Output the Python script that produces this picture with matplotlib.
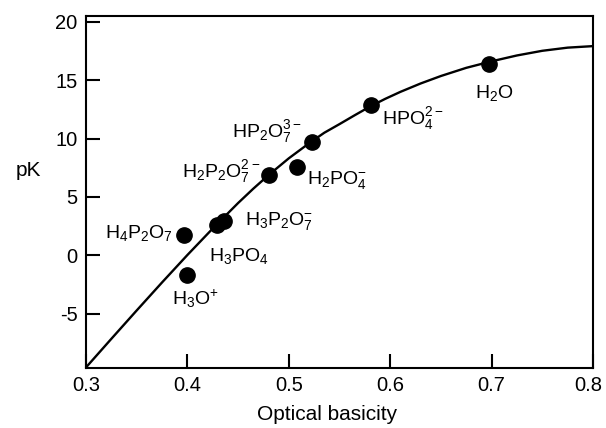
import matplotlib
matplotlib.use("Agg")
import matplotlib.pyplot as plt
import matplotlib.transforms as mtransforms

plt.rcParams["font.family"] = ["Liberation Sans", "DejaVu Sans"]
plt.rcParams["mathtext.default"] = "regular"
plt.rcParams["axes.unicode_minus"] = False

# measured species (optical basicity, pK)
species = [r"H$_2$O", r"HPO$_4^{2-}$", r"HP$_2$O$_7^{3-}$", r"H$_2$PO$_4^{-}$",
           r"H$_2$P$_2$O$_7^{2-}$", r"H$_3$P$_2$O$_7^{-}$", r"H$_3$PO$_4$",
           r"H$_4$P$_2$O$_7$", r"H$_3$O$^{+}$"]
basicity = [0.697, 0.581, 0.523, 0.508, 0.480, 0.436, 0.429, 0.397, 0.400]
pk = [16.4, 12.9, 9.7, 7.6, 6.9, 2.9, 2.6, 1.7, -1.7]

# fitted curve
curve_x = [0.300, 0.325, 0.350, 0.375, 0.400, 0.425, 0.450, 0.465, 0.480, 0.500,
           0.520, 0.535, 0.550, 0.565, 0.580, 0.595, 0.610, 0.630, 0.650, 0.675,
           0.700, 0.725, 0.750, 0.775, 0.800]
curve_y = [-9.6, -7.15, -4.72, -2.32, 0.03, 2.3, 4.48, 5.71, 6.87, 8.31,
           9.6, 10.5, 11.24, 12.0, 12.74, 13.4, 14.0, 14.72, 15.36, 16.06,
           16.62, 17.12, 17.52, 17.79, 17.92]

xticks = [0.3, 0.4, 0.5, 0.6, 0.7, 0.8]
yticks = [-5, 0, 5, 10, 15, 20]

# label placement relative to each point (pixels), alignment
label_offsets = [(6, -29, "center"), (11, -14, "left"), (-10, 11, "right"),
                 (10, -13, "left"), (-8, 3, "right"), (21, 0, "left"),
                 (-8, -31, "left"), (-11, 2, "right"), (8, -24, "center")]

fig = plt.figure(figsize=(6.06, 4.28), dpi=100)
ax = fig.add_axes([86 / 606, 1 - 368 / 428, 507 / 606, 352 / 428])

ax.plot(curve_x, curve_y, color="black", lw=1.7, zorder=2)
ax.plot(basicity, pk, "o", color="black", ms=11, zorder=3)

for name, x, y, (dx, dy, ha) in zip(species, basicity, pk, label_offsets):
    ax.annotate(name, (x, y), xytext=(dx, dy), textcoords="offset pixels",
                ha=ha, va="center", fontsize=14)

ax.set_xlim(0.3, 0.8)
ax.set_ylim(-9.65, 20.5)
ax.set_xticks(xticks)
ax.set_yticks(yticks)
ax.set_xticklabels([f"{t:.1f}" for t in xticks])
ax.tick_params(direction="in", length=10, width=1.5, labelsize=14.5, pad=6)

# keep the last x tick label inside the figure
last = ax.get_xticklabels()[-1]
last.set_transform(last.get_transform() + mtransforms.ScaledTranslation(-5 / 100, 0, fig.dpi_scale_trans))

for s in ax.spines.values():
    s.set_linewidth(1.5)

ax.set_xlabel("Optical basicity", fontsize=15)
ax.xaxis.label.set_va("center")
ax.xaxis.set_label_coords(0.475, -0.131)
ax.set_ylabel("pK", fontsize=15, rotation=0)
ax.yaxis.label.set_va("center")
ax.yaxis.label.set_ha("center")
ax.yaxis.set_label_coords(-0.114, 0.5625)

fig.savefig("out.png", dpi=100)
